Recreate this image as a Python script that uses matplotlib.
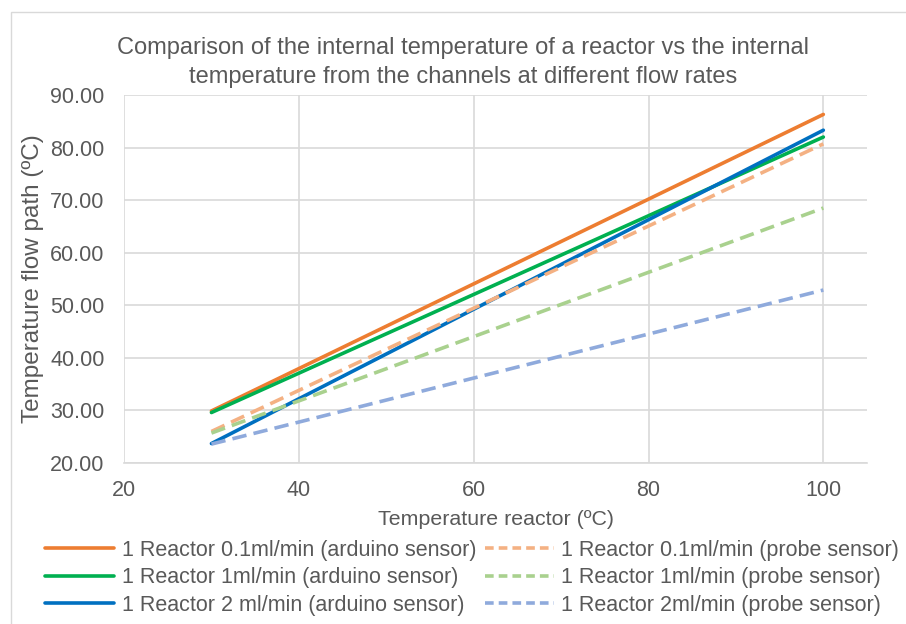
import matplotlib.pyplot as plt
from matplotlib.patches import Rectangle

plt.rcParams['font.family'] = ['Liberation Sans', 'DejaVu Sans']

# Temperature reactor (ºC)
x = [30, 100]
# Temperature flow path (ºC)
arduino_01 = [29.9, 86.3]
arduino_1 = [29.6, 82.0]
arduino_2 = [23.7, 83.3]
probe_01 = [26.0, 80.7]
probe_1 = [25.7, 68.5]
probe_2 = [23.6, 52.9]

labels = ["1 Reactor 0.1ml/min (arduino sensor)",
          "1 Reactor 1ml/min (arduino sensor)",
          "1 Reactor 2 ml/min (arduino sensor)",
          "1 Reactor 0.1ml/min (probe sensor)",
          "1 Reactor 1ml/min (probe sensor)",
          "1 Reactor 2ml/min (probe sensor)"]

grey = "#595959"

fig = plt.figure(figsize=(9.06, 6.24), dpi=100)
# chart area border
fig.patches.append(Rectangle((11/906, -0.1), 1.2, (612/624) + 0.1, transform=fig.transFigure,
                             fill=False, edgecolor="#D9D9D9", linewidth=1))
ax = fig.add_axes([0.1369, 0.258, 0.957 - 0.1369, 0.8478 - 0.258])

lw = 2.6
ax.plot(x, arduino_01, color="#ED7D31", lw=lw, label=labels[0], solid_capstyle="round")
ax.plot(x, arduino_1, color="#00B050", lw=lw, label=labels[1], solid_capstyle="round")
ax.plot(x, arduino_2, color="#0070C0", lw=lw, label=labels[2], solid_capstyle="round")
ax.plot(x, probe_01, color="#F4B183", lw=lw, ls=(0, (4, 2)), label=labels[3])
ax.plot(x, probe_1, color="#A9D18E", lw=lw, ls=(0, (4, 2)), label=labels[4])
ax.plot(x, probe_2, color="#8FAADC", lw=lw, ls=(0, (4, 2)), label=labels[5])

ax.set_xlim(20, 105)
ax.set_ylim(20, 90)
ax.set_xticks([20, 40, 60, 80, 100])
ax.set_yticks(range(20, 91, 10))
ax.set_yticklabels(["%.2f" % v for v in range(20, 91, 10)])
ax.grid(True, color="#D9D9D9", lw=1.2)
ax.set_axisbelow(True)
for s in ["top", "right", "left"]:
    ax.spines[s].set_visible(False)
ax.spines["bottom"].set_color("#D9D9D9")
ax.spines["bottom"].set_linewidth(1.2)
ax.tick_params(length=0, labelsize=15.5, colors=grey)
ax.tick_params(axis="x", pad=12)
ax.tick_params(axis="y", pad=14)

ax.set_xlabel("Temperature reactor (ºC)", fontsize=15.4, color=grey)
ax.xaxis.set_label_coords(0.5, -0.128)
ax.set_ylabel("Temperature flow path (ºC)", fontsize=17.5, color=grey)
ax.yaxis.set_label_coords(-0.108, 0.5)

fig.text(0.511, 0.9, "Comparison of the internal temperature of a reactor vs the internal\n"
         "temperature from the channels at different flow rates",
         ha="center", va="center", fontsize=17, color=grey, linespacing=1.45)

leg = fig.legend(loc="center", bbox_to_anchor=(0.521, 0.074), ncol=2, frameon=False,
                 fontsize=15.5, labelcolor=grey, handlelength=3.2, handletextpad=0.35,
                 columnspacing=0.4, labelspacing=0.3)
for h in leg.get_lines()[3:]:
    h.set_linestyle((0, (2.4, 1.4)))

plt.savefig("out.png", dpi=100)
